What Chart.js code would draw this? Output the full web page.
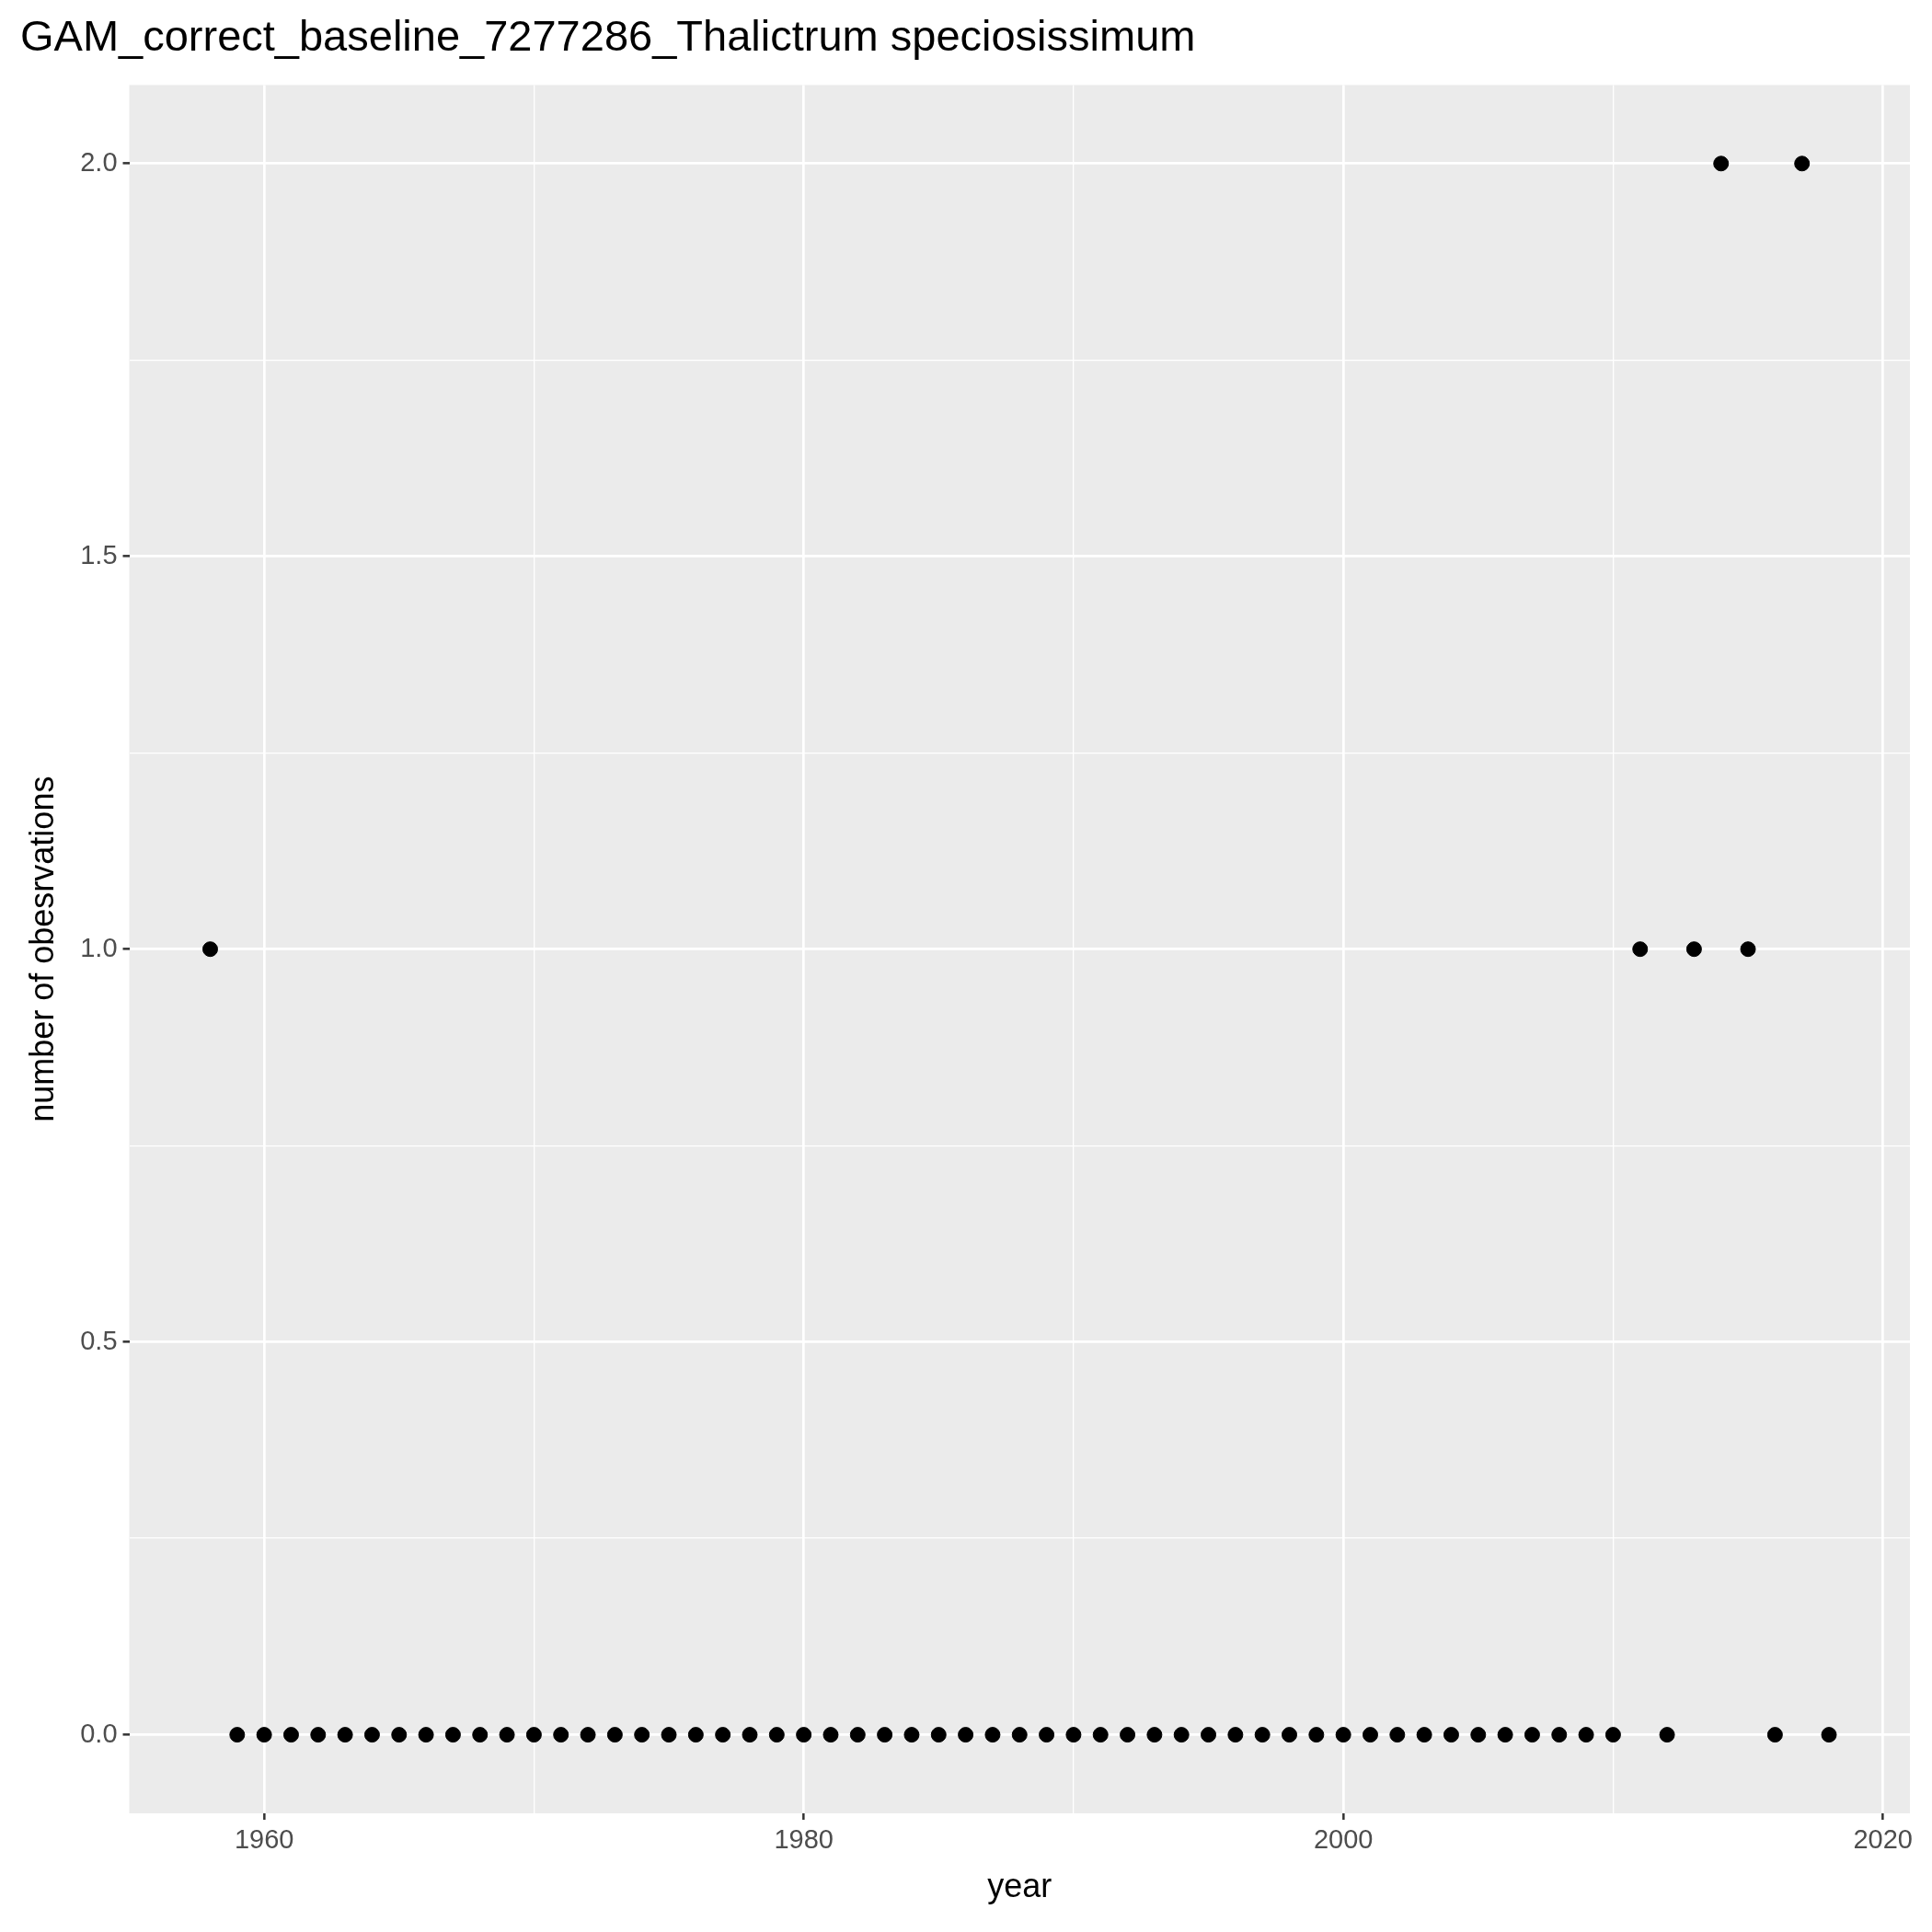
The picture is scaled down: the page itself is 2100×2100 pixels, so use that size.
<!DOCTYPE html>
<html><head><meta charset="utf-8">
<script src="https://cdn.jsdelivr.net/npm/chart.js@4"></script>
<style>html,body{margin:0;padding:0;background:#fff}#w{width:2100px;height:2100px}</style>
</head><body><div id="w"><canvas id="c"></canvas></div>
<script>
const years = [1958,1959,1960,1961,1962,1963,1964,1965,1966,1967,1968,1969,1970,1971,1972,1973,1974,1975,1976,1977,1978,1979,1980,1981,1982,1983,1984,1985,1986,1987,1988,1989,1990,1991,1992,1993,1994,1995,1996,1997,1998,1999,2000,2001,2002,2003,2004,2005,2006,2007,2008,2009,2010,2011,2012,2013,2014,2015,2016,2017,2018];
const counts = [1,0,0,0,0,0,0,0,0,0,0,0,0,0,0,0,0,0,0,0,0,0,0,0,0,0,0,0,0,0,0,0,0,0,0,0,0,0,0,0,0,0,0,0,0,0,0,0,0,0,0,0,0,1,0,1,2,1,0,2,0];
const xTicks = [1960,1970,1980,1990,2000,2010,2020];
const yTicks = [0,0.25,0.5,0.75,1,1.25,1.5,1.75,2];
const titleText = 'GAM_correct_baseline_7277286_Thalictrum speciosissimum';

const bg = {id:'bg',beforeDraw(ch){const a=ch.chartArea,c=ch.ctx;c.save();c.fillStyle='#EBEBEB';c.fillRect(a.left,a.top,a.right-a.left,a.bottom-a.top);c.restore();}};
const isMajX = v => v%20===0;
const isMajY = v => Math.abs(v*2-Math.round(v*2))<1e-9;
new Chart(document.getElementById('c'),{
  type:'scatter',
  data:{datasets:[{data:years.map((y,i)=>({x:y,y:counts[i]})),backgroundColor:'#000',borderColor:'#000',pointRadius:8,pointHoverRadius:8}]},
  options:{responsive:true,maintainAspectRatio:false,animation:false,
    layout:{padding:{left:22,right:24,top:10,bottom:22}},
    plugins:{legend:{display:false},tooltip:{enabled:false},
      title:{display:true,text:titleText,align:'start',color:'#000',font:{family:'Liberation Sans, Arial',size:47,weight:'normal'},padding:{top:4,bottom:22}}},
    scales:{
      x:{type:'linear',min:1955,max:2021,
        afterBuildTicks:s=>{s.ticks=xTicks.map(v=>({value:v}));},
        ticks:{color:'#4D4D4D',font:{family:'Liberation Sans, Arial',size:29},padding:6,maxRotation:0,autoSkip:false,callback:v=>isMajX(v)?String(v):''},
        grid:{color:'#fff',lineWidth:c=>isMajX(c.tick.value)?2.7:1.3,drawTicks:true,tickLength:7,tickWidth:2.5,tickColor:c=>isMajX(c.tick.value)?'#333':'rgba(0,0,0,0)'},
        border:{display:false},
        title:{display:true,text:'year',color:'#000',font:{family:'Liberation Sans, Arial',size:36},padding:{top:6}}},
      y:{type:'linear',min:-0.1,max:2.1,
        afterBuildTicks:s=>{s.ticks=yTicks.map(v=>({value:v}));},
        ticks:{color:'#4D4D4D',font:{family:'Liberation Sans, Arial',size:29},padding:6,autoSkip:false,callback:v=>isMajY(v)?v.toFixed(1):''},
        grid:{color:'#fff',lineWidth:c=>isMajY(c.tick.value)?2.7:1.3,drawTicks:true,tickLength:7,tickWidth:2.5,tickColor:c=>isMajY(c.tick.value)?'#333':'rgba(0,0,0,0)'},
        border:{display:false},
        title:{display:true,text:'number of obesrvations',color:'#000',font:{family:'Liberation Sans, Arial',size:36},padding:{bottom:12}}}
    }},
  plugins:[bg]
});
</script></body></html>
